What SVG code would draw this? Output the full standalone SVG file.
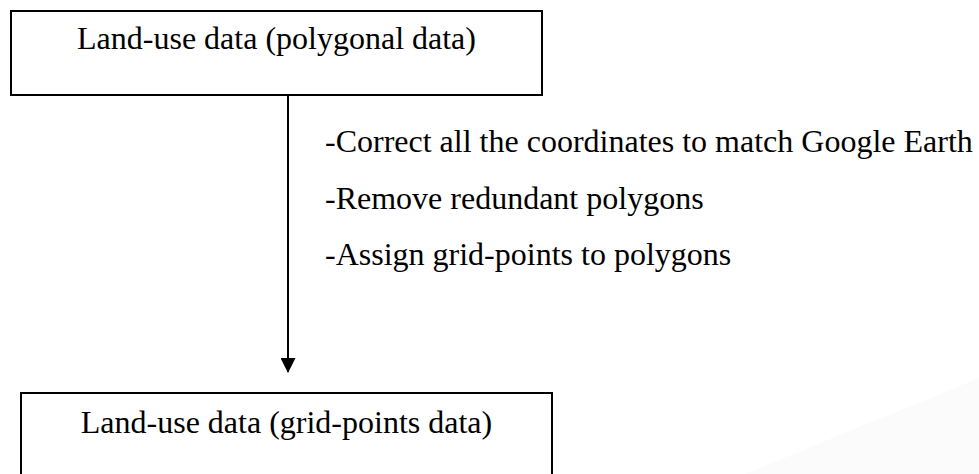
<svg xmlns="http://www.w3.org/2000/svg" width="979" height="474" viewBox="0 0 979 474">
<style>
.box{fill:#fff;stroke:#000;stroke-width:2}
.t{font-family:"Liberation Serif","Times New Roman",serif;font-size:32px;fill:#000}
.m{text-anchor:middle}
.c{stroke:#000;stroke-width:2;fill:none}
</style>
<defs>
<marker id="arr" markerWidth="15" markerHeight="15" refX="14" refY="7.5" orient="auto" markerUnits="userSpaceOnUse">
<path d="M0,0 L15,7.5 L0,15 Z" fill="#000"/>
</marker>
</defs>
<rect width="979" height="474" fill="#fff"/>
<polygon points="745,474 979,378 979,474" fill="#fbfbfb"/>
<g id="node1">
<rect class="box" x="11" y="11" width="531" height="84"/>
<text class="t m" x="276.5" y="49">Land-use data (polygonal data)</text>
</g>
<g id="node2">
<rect class="box" x="21" y="393" width="531" height="100"/>
<text class="t m" x="286.5" y="433">Land-use data (grid-points data)</text>
</g>
<g id="connectors">
<line class="c" x1="288" y1="95" x2="288" y2="372" marker-end="url(#arr)"/>
</g>
<g id="labels">
<text class="t" x="325" y="152">-Correct all the coordinates to match Google Earth</text>
<text class="t" x="325" y="209">-Remove redundant polygons</text>
<text class="t" x="325" y="265">-Assign grid-points to polygons</text>
</g>
</svg>
